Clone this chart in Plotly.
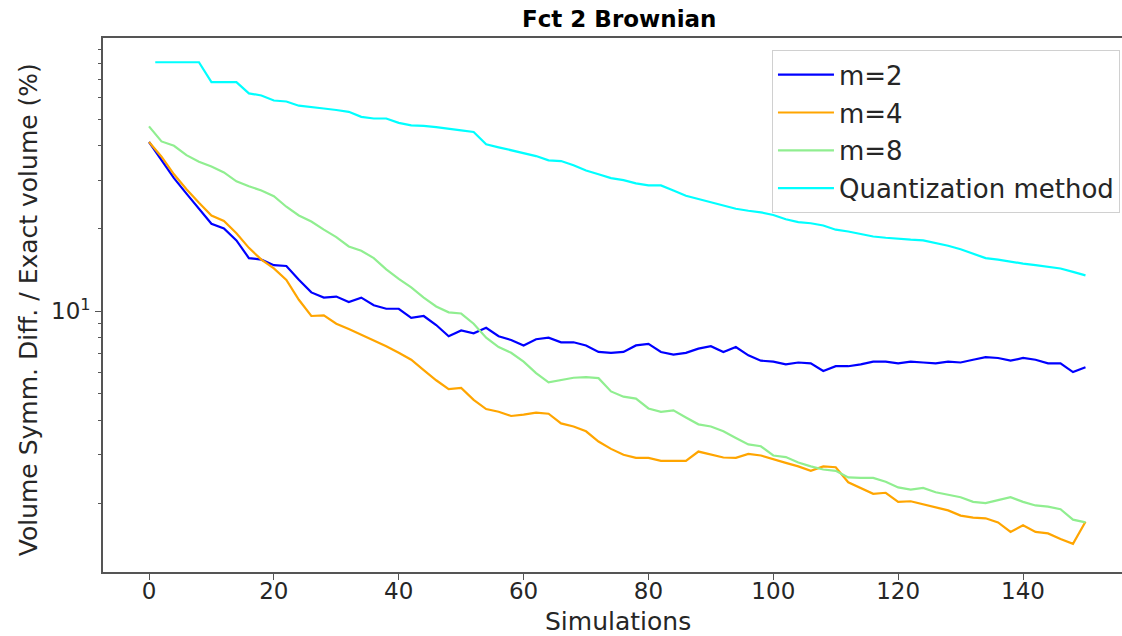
import plotly.graph_objects as go

# ---- data ----
sims = list(range(0, 151, 2))
quant_sims = [1] + list(range(2, 151, 2))

m2 = [41.3, 35.5, 30.5, 26.8, 23.5, 20.8, 20.0, 18.1, 15.6, 15.4,
      14.7, 14.6, 13.0, 11.7, 11.2, 11.3, 10.8, 11.2, 10.5, 10.2,
      10.2, 9.45, 9.6, 8.9, 8.1, 8.5, 8.3, 8.7, 8.1, 7.85,
      7.5, 7.9, 8.0, 7.7, 7.7, 7.5, 7.1, 7.05, 7.1, 7.5,
      7.6, 7.1, 6.95, 7.05, 7.3, 7.45, 7.1, 7.4, 6.9, 6.6,
      6.55, 6.4, 6.5, 6.45, 6.05, 6.3, 6.3, 6.4, 6.55, 6.55,
      6.45, 6.55, 6.5, 6.45, 6.55, 6.5, 6.65, 6.8, 6.75, 6.6,
      6.75, 6.65, 6.45, 6.45, 6.0, 6.25]

m4 = [41.3, 36.5, 31.5, 27.8, 24.8, 22.3, 21.3, 19.2, 17.0, 15.4,
      14.3, 13.0, 11.0, 9.6, 9.65, 9.0, 8.6, 8.2, 7.8, 7.45,
      7.05, 6.65, 6.1, 5.6, 5.2, 5.25, 4.75, 4.4, 4.3, 4.15,
      4.2, 4.27, 4.23, 3.9, 3.8, 3.65, 3.35, 3.15, 3.0, 2.92,
      2.92, 2.85, 2.85, 2.85, 3.08, 3.0, 2.93, 2.92, 3.02, 2.98,
      2.88, 2.8, 2.72, 2.62, 2.72, 2.7, 2.38, 2.27, 2.16, 2.18,
      2.02, 2.03, 1.98, 1.93, 1.88, 1.8, 1.77, 1.76, 1.7, 1.57,
      1.66, 1.57, 1.55, 1.48, 1.42, 1.71]

m8 = [47.1, 41.5, 40.0, 37.0, 35.0, 33.6, 32.0, 29.7, 28.5, 27.5,
      26.2, 24.0, 22.3, 21.2, 19.8, 18.6, 17.2, 16.6, 15.6, 14.2,
      13.1, 12.2, 11.2, 10.4, 9.9, 9.8, 9.0, 8.0, 7.4, 7.05,
      6.55, 5.95, 5.5, 5.6, 5.72, 5.75, 5.7, 5.1, 4.88, 4.8,
      4.42, 4.3, 4.35, 4.1, 3.87, 3.8, 3.65, 3.45, 3.27, 3.22,
      2.98, 2.94, 2.81, 2.72, 2.65, 2.62, 2.48, 2.47, 2.47, 2.39,
      2.28, 2.24, 2.27, 2.19, 2.15, 2.1, 2.02, 2.0, 2.05, 2.1,
      2.02, 1.96, 1.94, 1.9, 1.74, 1.70]

quant = [80.6, 80.6, 80.6, 80.6, 80.6, 68.2, 68.2, 68.2, 62.1, 61.0,
         58.5, 58.0, 56.0, 55.2, 54.7, 54.0, 53.2, 51.0, 50.3, 50.3,
         48.5, 47.5, 47.3, 46.8, 46.0, 45.5, 44.9, 40.5, 39.5, 38.5,
         37.5, 36.7, 35.4, 35.2, 34.0, 32.5, 31.5, 30.5, 30.0, 29.2,
         28.7, 28.7, 27.5, 26.3, 25.6, 24.9, 24.2, 23.6, 23.2, 22.9,
         22.4, 21.6, 21.1, 20.9, 20.5, 19.8, 19.5, 19.1, 18.7, 18.5,
         18.3, 18.2, 18.1, 17.7, 17.3, 16.8, 16.2, 15.6, 15.4, 15.1,
         14.9, 14.7, 14.5, 14.3, 13.9, 13.5, 13.5]

series_names = ["m=2", "m=4", "m=8", "Quantization method"]
x_ticks = [0, 20, 40, 60, 80, 100, 120, 140]
y_major = [10]
y_major_text = ["10<sup>1</sup>"]
y_minor = [2, 3, 4, 5, 6, 7, 8, 9, 20, 30, 40, 50, 60, 70, 80, 90]

colors = ["#0000ff", "#ffa500", "#90ee90", "#00ffff"]
FONT = "DejaVu Sans"

fig = go.Figure()
for i, (xs, ys) in enumerate([(sims, m2), (sims, m4), (sims, m8), (quant_sims, quant)]):
    fig.add_trace(go.Scatter(
        x=xs, y=ys, mode="lines", name=series_names[i],
        line=dict(color=colors[i], width=2.2, shape="linear"),
        legendgroup=f"g{i}",
    ))

W, H = 1122, 636
L, R, T, B = 103, 0, 37.5, 64
PW, PH = W - L, H - T - B


def px_x(p):
    return (p - L) / PW


def px_y(p):
    return ((H - B) - p) / PH


fig.update_layout(
    width=W, height=H,
    margin=dict(l=L, r=R, t=T, b=B, pad=0),
    paper_bgcolor="white", plot_bgcolor="white",
    font=dict(family=FONT, color="#262626"),
    showlegend=True,
    legend=dict(
        x=0.998, y=0.977, xanchor="right", yanchor="top",
        bgcolor="rgba(255,255,255,0.85)", bordercolor="#d0d0d0", borderwidth=1,
        font=dict(family=FONT, size=26, color="#262626"),
        tracegroupgap=1, itemwidth=56,
    ),
    xaxis=dict(
        range=[-7.37, 155.85],
        tickmode="array", tickvals=x_ticks,
        ticks="outside", ticklen=6, tickwidth=1.2, tickcolor="#555",
        ticklabelstandoff=-8,
        tickfont=dict(family=FONT, size=23, color="#262626"),
        showline=True, linecolor="#555", linewidth=1.6, mirror=True,
        showgrid=False, zeroline=False,
    ),
    yaxis=dict(
        type="log", range=[0.0499, 1.9947],
        tickmode="array", tickvals=y_major, ticktext=y_major_text,
        ticks="outside", ticklen=6, tickwidth=1.2, tickcolor="#555",
        tickfont=dict(family=FONT, size=23, color="#262626"),
        minor=dict(tickmode="array", tickvals=y_minor, ticks="outside",
                   ticklen=3.5, tickwidth=1, tickcolor="#555", showgrid=False),
        showline=True, linecolor="#555", linewidth=1.6, mirror=False,
        showgrid=False, zeroline=False,
    ),
    annotations=[
        dict(text="<b>Fct 2 Brownian</b>", xref="paper", yref="paper",
             x=px_x(619), y=px_y(18),
             xanchor="center", yanchor="middle", showarrow=False,
             font=dict(family=FONT, size=23, color="black")),
        dict(text="Simulations", xref="paper", yref="paper",
             x=px_x(618), y=px_y(622),
             xanchor="center", yanchor="middle", showarrow=False,
             font=dict(family=FONT, size=25, color="#262626")),
        dict(text="Volume Symm. Diff. / Exact volume (%)", xref="paper", yref="paper",
             x=px_x(28), y=px_y(310), textangle=-90,
             xanchor="center", yanchor="middle", showarrow=False,
             font=dict(family=FONT, size=25, color="#262626")),
    ],
)

fig.write_html("out.html")
